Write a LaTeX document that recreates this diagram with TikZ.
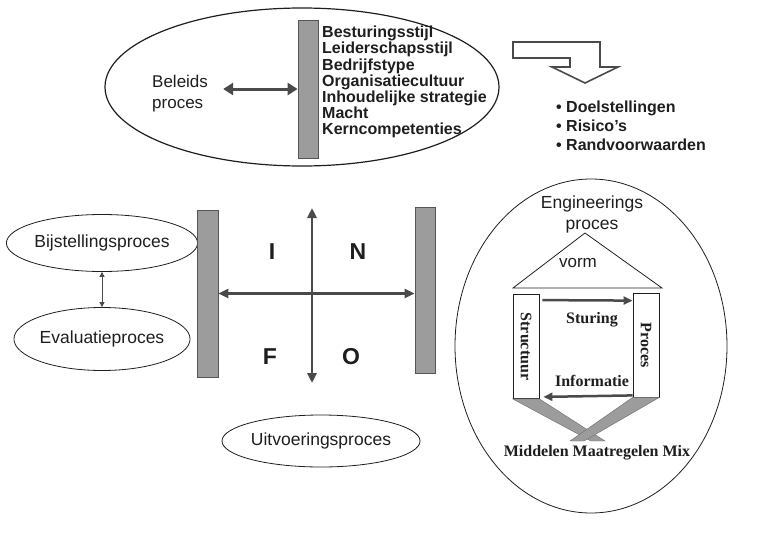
\documentclass[tikz,border=0pt]{standalone}
\usepackage{fontspec}
\setmainfont{Liberation Sans}
\newfontfamily\timesfont{Liberation Serif}
\usepackage{tikz}
\usetikzlibrary{
  arrows.meta,
  shapes.geometric,
  positioning,
  calc
}
\definecolor{pmBar}{HTML}{9C9C9C}
\definecolor{pmBarEdge}{HTML}{555555}
\definecolor{pmArrow}{HTML}{4A4A4A}
\definecolor{pmInk}{HTML}{1E1E1E}
\tikzset{
  procell/.style={
    draw=pmInk, ellipse, line width=0.8pt, inner sep=0pt,
    font=\fontsize{17.5}{21}\selectfont, text=pmInk
  },
  greybar/.style={draw=pmBarEdge, fill=pmBar, line width=0.8pt, inner sep=0pt},
  sidebox/.style={draw=pmInk, fill=white, line width=0.8pt, minimum width=26pt, minimum height=104pt, inner sep=0pt},
  plaintext/.style={font=\fontsize{17}{21}\selectfont, text=pmInk, align=left, inner sep=0pt},
  boldlist/.style={font=\bfseries\fontsize{16}{16.2}\selectfont, align=left, text=pmInk, inner sep=0pt},
  bulletlist/.style={font=\bfseries\fontsize{16}{19}\selectfont, align=left, text=pmInk, inner sep=0pt},
  infoletter/.style={font=\bfseries\fontsize{23}{23}\selectfont, text=pmInk, inner sep=0pt},
  serifbold/.style={font=\timesfont\bfseries\fontsize{16}{16}\selectfont, text=pmInk, inner sep=0pt},
  dualarrow/.style={{Triangle[length=10pt,width=12pt]}-{Triangle[length=10pt,width=12pt]}, line width=3pt, draw=pmArrow},
  infoarrow/.style={{Triangle[length=10pt,width=9pt]}-{Triangle[length=10pt,width=9pt]}, line width=2.5pt, draw=pmArrow},
  thinarrow/.style={{Triangle[length=5pt,width=5pt]}-{Triangle[length=5pt,width=5pt]}, line width=1pt, draw=pmArrow},
  flowarrow/.style={-{Triangle[length=9pt,width=8pt]}, line width=2.5pt, draw=pmArrow},
  band/.style={fill=pmBar, draw=pmBar!70!black, line width=0.4pt},
  hollowarrow/.style={draw=pmArrow, fill=white, line width=1.6pt, line join=miter}
}

\begin{document}
\begin{tikzpicture}[x=1pt, y=-1pt]
  \useasboundingbox (0,0) rectangle (763,533);

  \node[procell, line width=1.2pt, minimum width=394pt, minimum height=158pt] (beleidsell) at (302,87) {};
  \node[greybar, minimum width=20pt, minimum height=138pt] (bartop) at (308,89) {};
  \node[plaintext, anchor=west] (beleids) at (152,94) {Beleids\\proces};
  \node[boldlist, anchor=north west] (factors) at (322,26) {Besturingsstijl\\Leiderschapsstijl\\Bedrijfstype\\Organisatiecultuur\\Inhoudelijke strategie\\Macht\\Kerncompetenties};
  \draw[dualarrow, shorten <=15pt] ($(beleids.east)+(0,-5)$) -- (bartop.west);

  \draw[hollowarrow] (513,42) -- (600,42) -- (600,67) -- (618,67) -- (585,83) -- (552,67) -- (570,67) -- (570,58) -- (513,58) -- cycle;
  \node[bulletlist, anchor=north west] (goals) at (556,101) {\textbullet\ Doelstellingen\\\textbullet\ Risico’s\\\textbullet\ Randvoorwaarden};

  \node[procell, minimum width=171pt, minimum height=57pt] (bijst) at (102,243) {Bijstellingsproces};
  \node[procell, minimum width=168pt, minimum height=63pt] (eval) at (102,339) {Evaluatieproces};
  \draw[thinarrow] (bijst.south) -- (eval.north);

  \node[greybar, minimum width=21pt, minimum height=167pt] (barleft) at (207.5,293.5) {};
  \node[greybar, minimum width=20pt, minimum height=166pt] (barright) at (425,290) {};
  \coordinate (infotop) at (312,208);
  \coordinate (infobot) at (312,383);
  \draw[infoarrow] (barleft.east) -- (barleft.east -| barright.west);
  \draw[infoarrow] (infotop) -- (infobot);
  \node[infoletter] (letI) at (272,252) {I};
  \node[infoletter] (letN) at (358,252) {N};
  \node[infoletter] (letF) at (270,357) {F};
  \node[infoletter] (letO) at (351,357) {O};

  \node[procell, minimum width=168pt, minimum height=52pt] (uitv) at (321,441) {Uitvoeringsproces};

  \node[procell, minimum width=272pt, minimum height=334pt] (engell) at (591,346) {};
  \node[procell, draw=none, align=center] (eng) at (592,214) {Engineerings\\proces};
  \coordinate (roofleft) at (513,288);
  \coordinate (rooftop) at (585,233);
  \coordinate (roofright) at (662,288);
  \draw[line width=0.8pt, draw=pmInk] (roofleft) -- (rooftop) -- (roofright) -- cycle;
  \node[plaintext] (vorm) at (578,263) {vorm};

  \node[sidebox, label={[serifbold, rotate=-90]center:Structuur}] (structuur) at (526,346.5) {};
  \node[sidebox, label={[serifbold, rotate=-90]center:Proces}] (proces) at (646,345) {};
  \draw[band] (structuur.south west) -- (structuur.south east) -- (605,441) -- (591,441) -- cycle;
  \draw[band] (proces.south west) -- (proces.south east) -- (584,441) -- (570,441) -- cycle;
  \draw[flowarrow] ($(structuur.north east)+(3,6)$) -- ($(proces.north west)+(0,8)$);
  \draw[flowarrow] ($(proces.south west)+(0,-2)$) -- ($(structuur.south east)+(4,-2)$);
  \node[serifbold] (sturing) at (592,320) {Sturing};
  \node[serifbold] (informatie) at (592,381) {Informatie};
  \node[serifbold] (mix) at (597,453) {Middelen Maatregelen Mix};
\end{tikzpicture}
\end{document}
